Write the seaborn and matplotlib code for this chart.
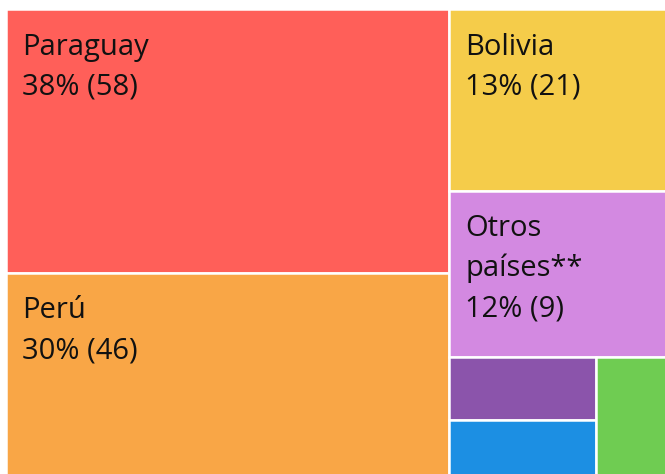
import matplotlib
matplotlib.use("Agg")
import matplotlib.pyplot as plt
from matplotlib.patches import Rectangle
import seaborn as sns

# ---- data ----
names = ["Paraguay", "Perú", "Bolivia", "Otros\npaíses**", "Grupo 5", "Grupo 6", "Grupo 7"]
sizes = [37.9, 29.2, 12.8, 11.7, 3.0, 2.7, 2.7]
pct_labels = ["38%", "30%", "13%", "12%", "", "", ""]
counts = ["58", "46", "21", "9", "", "", ""]
colors = ["#ff5f59", "#f9a646", "#f5cc4a", "#d389e1", "#8b54ab", "#1c8fe3", "#6fcc52"]

sns.set_theme(style="white")
plt.rcParams["font.family"] = ["Open Sans", "DejaVu Sans"]

W, H = 660.0, 467.0
PHI = (1 + 5 ** 0.5) / 2


def squarify(values, x0, y0, x1, y1, ratio=PHI):
    """d3-style squarified treemap layout."""
    rects = [None] * len(values)
    order = sorted(range(len(values)), key=lambda i: -values[i])
    vals = [values[i] for i in order]
    total = sum(vals)
    i0 = 0
    n = len(vals)
    while i0 < n:
        dx, dy = x1 - x0, y1 - y0
        i1 = i0
        s = vals[i1]; i1 += 1
        mn = mx = s
        alpha = max(dy / dx, dx / dy) / (total * ratio)
        beta = s * s * alpha
        min_ratio = max(mx / beta, beta / mn)
        while i1 < n:
            v = vals[i1]
            s2 = s + v
            mn2, mx2 = min(mn, v), max(mx, v)
            beta = s2 * s2 * alpha
            new_ratio = max(mx2 / beta, beta / mn2)
            if new_ratio > min_ratio:
                break
            s, mn, mx, min_ratio = s2, mn2, mx2, new_ratio
            i1 += 1
        row = list(range(i0, i1))
        if dx < dy:  # dice: row spans width, stacked horizontally
            h = dy * s / total
            cx = x0
            for j in row:
                w = dx * vals[j] / s
                rects[order[j]] = (cx, y0, w, h)
                cx += w
            y0 += h
        else:  # slice: row spans height, stacked vertically
            w = dx * s / total
            cy = y0
            for j in row:
                h = dy * vals[j] / s
                rects[order[j]] = (x0, cy, w, h)
                cy += h
            x0 += w
        total -= s
        i0 = i1
    return rects


rects = squarify(sizes, 0, 0, W, H)

fig = plt.figure(figsize=(6.65, 4.74), dpi=100)
ax = fig.add_axes([0, 0, 1, 1])
ax.set_xlim(-6, 659)
ax.set_ylim(465, -9)
ax.axis("off")

for (x, y, w, h), c in zip(rects, colors):
    ax.add_patch(Rectangle((x, y), w, h, facecolor=c, edgecolor="white", linewidth=1.8))

for (x, y, w, h), name, p, cnt in zip(rects, names, pct_labels, counts):
    if not p:
        continue
    lines = name.split("\n") + [f"{p} ({cnt})"]
    for k, line in enumerate(lines):
        ax.annotate(line, xy=(x, y), xytext=(16.5, -(45.5 + 40 * k)),
                    textcoords="offset pixels", ha="left", va="baseline",
                    fontsize=21, color="#111111")

fig.savefig("out.png", dpi=100)
